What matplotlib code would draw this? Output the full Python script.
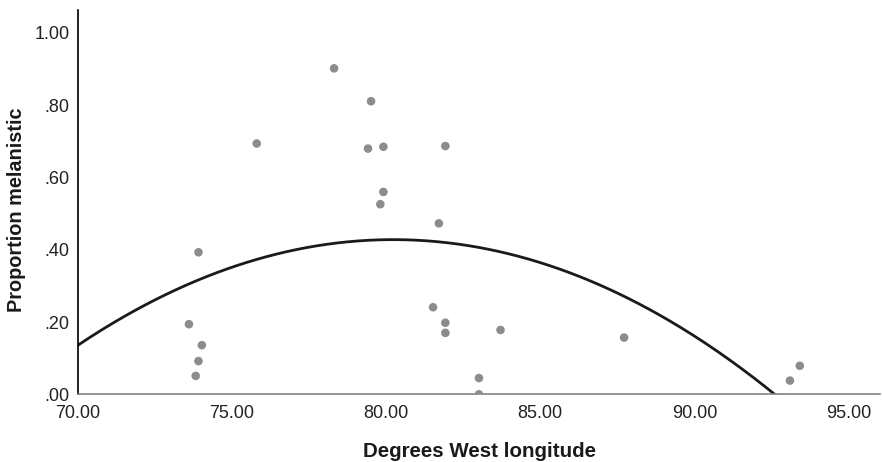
import numpy as np
import matplotlib
matplotlib.use('Agg')
import matplotlib.pyplot as plt

plt.rcParams['font.family'] = ['Liberation Sans', 'DejaVu Sans']

# degrees west longitude vs proportion melanistic
lon = [75.80, 73.91, 73.60, 74.02, 73.91, 73.82,
       78.31, 79.51, 79.41, 79.91, 81.92, 79.91, 79.81, 81.71,
       81.52, 81.92, 81.92, 83.71, 87.72, 83.01, 83.01, 93.10, 93.42]
mel = [0.694, 0.393, 0.194, 0.136, 0.092, 0.051,
       0.902, 0.811, 0.680, 0.685, 0.687, 0.560, 0.526, 0.473,
       0.241, 0.198, 0.170, 0.178, 0.157, 0.045, 0.000, 0.038, 0.079]

xticks = [70, 75, 80, 85, 90, 95]
yticks = [0, 0.2, 0.4, 0.6, 0.8, 1.0]
ytick_labels = ['.00', '.20', '.40', '.60', '.80', '1.00']

fig = plt.figure(figsize=(8.82, 4.62), dpi=100)
ax = fig.add_axes([0.0884, 0.1465, 0.9096, 0.8315])

ax.scatter(lon, mel, s=38, color='#8c8c8f', edgecolors='none', zorder=3)

# quadratic fit line
p = np.polyfit(lon, mel, 2)
xs = np.linspace(70, 96.03, 400)
ys = np.polyval(p, xs)
ax.plot(xs, ys, color='#1a1a1a', lw=2, zorder=2)

ax.set_xlim(70, 96.03)
ax.set_ylim(0, 1.063)
ax.set_xticks(xticks)
ax.set_xticklabels(['%.2f' % t for t in xticks])
ax.set_yticks(yticks)
ax.set_yticklabels(ytick_labels)
ax.tick_params(length=0, labelsize=13, colors='#222222')
ax.tick_params(axis='x', pad=8)
ax.tick_params(axis='y', pad=6)

for s in ['top', 'right']:
    ax.spines[s].set_visible(False)
ax.spines['left'].set_color('black')
ax.spines['left'].set_linewidth(1.2)
ax.spines['bottom'].set_color('#808080')
ax.spines['bottom'].set_linewidth(1.2)

ax.set_xlabel('Degrees West longitude', fontsize=14.8, fontweight='bold', color='#1a1a1a', labelpad=14)
ax.set_ylabel('Proportion melanistic', fontsize=14.3, fontweight='bold', color='#1a1a1a',
              va='center')
ax.yaxis.set_label_coords(-0.0765, 0.48)

fig.savefig('out.png', dpi=100)
